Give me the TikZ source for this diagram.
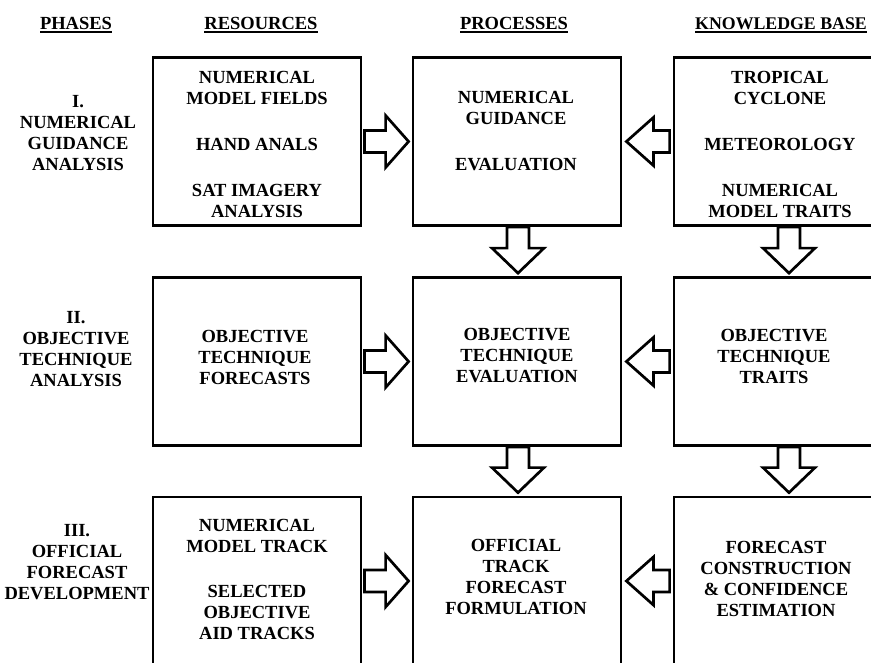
\documentclass[tikz,border=0pt]{standalone}
\usepackage{fontspec}
\setmainfont{Liberation Serif}
\usetikzlibrary{calc}
\newcommand\hdrtext[1]{\setbox0\hbox{#1}\rlap{\rule[-4pt]{\wd0}{1.6pt}}\box0}
% block arrow pointing right: from #1.east to #2.west
\newcommand\rblock[2]{\draw[barrow] let \p1=(#1.east), \p2=(#2.west) in
  (\x1+2pt,\y1+11pt) -- (\x2-26pt,\y1+11pt) -- (\x2-26pt,\y1+26pt) -- (\x2-3pt,\y1)
  -- (\x2-26pt,\y1-26pt) -- (\x2-26pt,\y1-11pt) -- (\x1+2pt,\y1-11pt) -- cycle;}
% block arrow pointing left: from #1.west to #2.east
\newcommand\lblock[2]{\draw[barrow] let \p1=(#1.west), \p2=(#2.east) in
  (\x1-3pt,\y1+11pt) -- (\x2+31pt,\y1+11pt) -- (\x2+31pt,\y1+24pt) -- (\x2+4pt,\y1)
  -- (\x2+31pt,\y1-24pt) -- (\x2+31pt,\y1-11pt) -- (\x1-3pt,\y1-11pt) -- cycle;}
% block arrow pointing down: from #1.south to #2.north, x offset #3
\newcommand\dblock[3]{\draw[barrow] let \p1=(#1.south), \p2=(#2.north) in
  (\x1+#3-11pt,\y1) -- (\x1+#3-11pt,\y2+28pt) -- (\x1+#3-26pt,\y2+28pt) -- (\x1+#3,\y2+3pt)
  -- (\x1+#3+26pt,\y2+28pt) -- (\x1+#3+11pt,\y2+28pt) -- (\x1+#3+11pt,\y1) -- cycle;}
\begin{document}
\begin{tikzpicture}[x=1pt,y=-1pt,
  box/.style={draw, line width=2.8pt, minimum width=208pt, minimum height=168pt, inner sep=0pt},
  kbox/.style={box, minimum width=214pt},
  txt/.style={font=\fontsize{18.5}{21}\selectfont\bfseries, align=center, inner sep=0pt},
  barrow/.style={draw, fill=white, line width=2.7pt, line join=miter}]
\useasboundingbox (0,0) rectangle (871,662);
\clip (0,0) rectangle (871,662);

% headers
\node[txt, anchor=base] (hph) at (76,29) {\hdrtext{PHASES}};
\node[txt, anchor=base] (hres) at (261,29) {\hdrtext{RESOURCES}};
\node[txt, anchor=base] (hpro) at (514,29) {\hdrtext{PROCESSES}};
\node[txt, anchor=base west, font=\fontsize{17.8}{21}\selectfont\bfseries] (hkb) at (695,29) {\hdrtext{KNOWLEDGE BASE}};

% phases
\node[txt] (p1) at (78,133) {I.\\NUMERICAL\\GUIDANCE\\ANALYSIS};
\node[txt] (p2) at (76,349) {II.\\OBJECTIVE\\TECHNIQUE\\ANALYSIS};
\node[txt] (p3) at (77,562) {III.\\OFFICIAL\\FORECAST\\DEVELOPMENT};

% boxes
\node[box] (r1) at (257,141.5) {};
\node[box] (q1) at (517,141.5) {};
\node[kbox] (k1) at (781,141.5) {};
\node[box] (r2) at (257,361.5) {};
\node[box] (q2) at (517,361.5) {};
\node[kbox] (k2) at (781,361.5) {};
\node[box] (r3) at (257,581) {};
\node[box] (q3) at (517,581) {};
\node[kbox] (k3) at (781,581) {};

% box texts
\node[txt] (tr1) at (257,144) {NUMERICAL\\MODEL FIELDS\\[25pt]HAND ANALS\\[25pt]SAT IMAGERY\\ANALYSIS};
\node[txt] (tq1) at (516,131) {NUMERICAL\\GUIDANCE\\[25pt]EVALUATION};
\node[txt] (tk1) at (780,144) {TROPICAL\\CYCLONE\\[25pt]METEOROLOGY\\[25pt]NUMERICAL\\MODEL TRAITS};
\node[txt] (tr2) at (255,357) {OBJECTIVE\\TECHNIQUE\\FORECASTS};
\node[txt] (tq2) at (517,356) {OBJECTIVE\\TECHNIQUE\\EVALUATION};
\node[txt] (tk2) at (774,356) {OBJECTIVE\\TECHNIQUE\\TRAITS};
\node[txt] (tr3) at (257,579) {NUMERICAL\\MODEL TRACK\\[24pt]SELECTED\\OBJECTIVE\\AID TRACKS};
\node[txt] (tq3) at (516,577) {OFFICIAL\\TRACK\\FORECAST\\FORMULATION};
\node[txt] (tk3) at (776,579) {FORECAST\\CONSTRUCTION\\\&\ CONFIDENCE\\ESTIMATION};

% arrows
\rblock{r1}{q1}
\rblock{r2}{q2}
\rblock{r3}{q3}
\lblock{k1}{q1}
\lblock{k2}{q2}
\lblock{k3}{q3}
\dblock{q1}{q2}{1pt}
\dblock{q2}{q3}{1pt}
\dblock{k1}{k2}{8pt}
\dblock{k2}{k3}{8pt}
\end{tikzpicture}
\end{document}
